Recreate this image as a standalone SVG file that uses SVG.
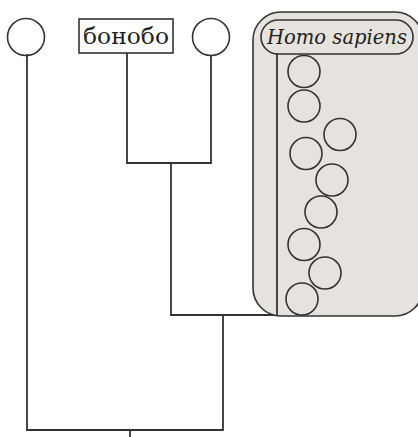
<svg xmlns="http://www.w3.org/2000/svg" width="418" height="437" viewBox="0 0 418 437">
<style>
.ln{fill:none;stroke:#333;stroke-width:1.8;stroke-linecap:square}
.c{fill:none;stroke:#333;stroke-width:1.6}
.t{font-family:"DejaVu Serif","Liberation Serif",serif;fill:#222}
</style>
<rect width="418" height="437" fill="#fff"/>
<g id="connectors">
<path class="ln" d="M27,55 V430 H223 V315"/>
<path class="ln" d="M127,53 V163 H211 V56"/>
<path class="ln" d="M171,163 V315 H277"/>
<path class="ln" d="M130,430 V437"/>
</g>
<g id="node-left"><circle class="c" cx="26" cy="37" r="18.5"/></g>
<g id="node-bonobo">
<rect x="79" y="19" width="94" height="34" fill="#fff" stroke="#333" stroke-width="1.6"/>
<text class="t" x="126" y="44" font-size="23" text-anchor="middle" textLength="86" lengthAdjust="spacingAndGlyphs">бонобо</text>
</g>
<g id="node-right"><circle class="c" cx="211" cy="37" r="18.5"/></g>
<g id="node-homo">
<rect x="253" y="12" width="170" height="304" rx="28" fill="#e6e2de" stroke="#333" stroke-width="1.6"/>
<rect x="261" y="20" width="152" height="34" rx="17" fill="#e6e2de" stroke="#333" stroke-width="1.6"/>
<text class="t" x="337" y="44" font-size="21" font-style="italic" text-anchor="middle" textLength="140" lengthAdjust="spacingAndGlyphs">Homo sapiens</text>
<path class="ln" d="M277,54 V315"/>
<circle class="c" cx="304" cy="71.5" r="16"/>
<circle class="c" cx="304" cy="106" r="16"/>
<circle class="c" cx="340" cy="134.5" r="16"/>
<circle class="c" cx="306" cy="153.5" r="16"/>
<circle class="c" cx="332" cy="180" r="16"/>
<circle class="c" cx="321" cy="212" r="16"/>
<circle class="c" cx="304" cy="244.5" r="16"/>
<circle class="c" cx="325" cy="273" r="16"/>
<circle class="c" cx="302" cy="299" r="16"/>
</g>
</svg>
